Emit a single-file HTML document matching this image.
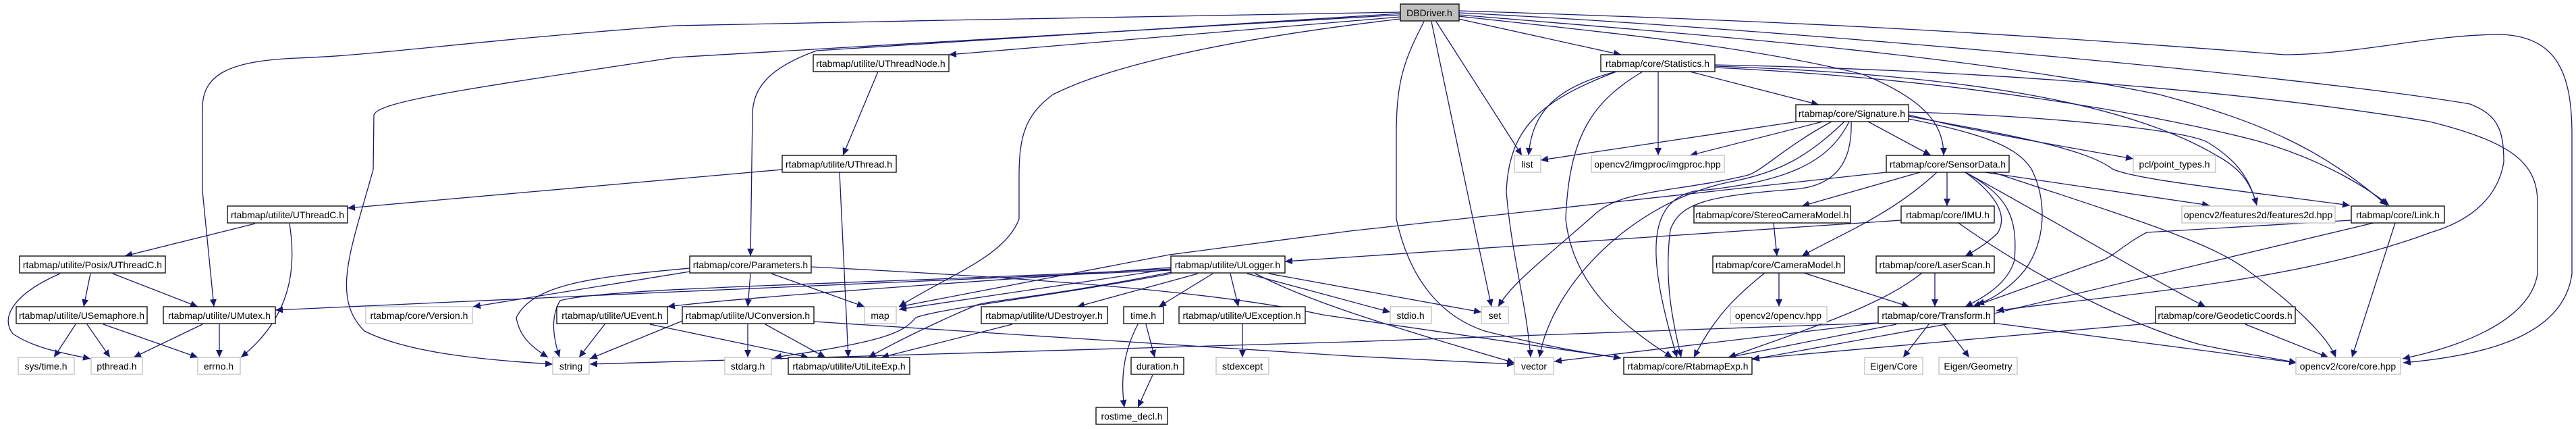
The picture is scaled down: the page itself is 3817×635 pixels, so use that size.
<!DOCTYPE html>
<html><head><meta charset="utf-8"><style>
html,body{margin:0;padding:0;background:#fff;}
svg{display:block;}
text{font-family:"Liberation Sans",Arial,sans-serif;font-size:14px;fill:#000;text-anchor:middle;}
.e{fill:none;stroke:#191970;stroke-width:1.3;marker-end:url(#a);}
.n{fill:#fff;stroke:#000;stroke-width:1.3;}
.g{fill:#fff;stroke:#bfbfbf;stroke-width:1.3;}
</style></head><body>
<svg width="3817" height="635" viewBox="0 0 3817 635" xmlns="http://www.w3.org/2000/svg">
<defs><marker id="a" markerUnits="userSpaceOnUse" markerWidth="12" markerHeight="10" refX="11" refY="5" orient="auto"><path d="M0,0 L11,5 L0,10 z" fill="#191970"/></marker></defs>
<g>
<!-- left side -->
<path class="e" d="M2075,18 L1400,30 L1000,38 C700,60 560,82 440,86 C340,90 300,110 300,160 L300,283 L317,454"/>
<path class="e" d="M2075,22 L1000,85 C700,130 560,150 554,170 L553,251 C520,370 490,440 540,490 C600,520 700,532 819,539"/>
<path class="e" d="M1159,251 L515,308"/>
<path class="e" d="M378,331 L185,379"/>
<path class="e" d="M429,331 C440,400 430,470 357,529"/>
<path class="e" d="M89,405 C20,435 0,470 19,494 C50,515 90,522 134,531"/>
<path class="e" d="M134,405 L124,454"/>
<path class="e" d="M167,405 L293,454"/>
<path class="e" d="M112,480 L80,529"/>
<path class="e" d="M129,480 L163,529"/>
<path class="e" d="M153,480 L293,529"/>
<path class="e" d="M300,480 L198,529"/>
<path class="e" d="M325,480 L325,529"/>
<path class="e" d="M1735,400 L1000,432 L408,459"/>
<path class="e" d="M1022,402 L701,454"/>
<path class="e" d="M1022,397 C880,410 790,420 765,470 C770,500 790,515 812,529"/>
<path class="e" d="M1735,398 C1300,420 900,425 830,445 C815,470 820,500 829,529"/>
<path class="e" d="M896,480 L858,529"/>
<path class="e" d="M1011,475 L874,531"/>
<path class="e" d="M963,480 L1198,529"/>
<path class="e" d="M1735,396 C1400,420 1100,440 989,454"/>
<path class="e" d="M2783,478 L2000,506 L874,539"/>
<!-- middle -->
<path class="e" d="M2075,25 L1406,81"/>
<path class="e" d="M1301,106 L1249,230"/>
<path class="e" d="M1244,255 L1257,529"/>
<path class="e" d="M2075,20 L1210,75 C1140,100 1115,130 1115,170 L1112,379"/>
<path class="e" d="M2075,28 C1800,60 1640,100 1560,140 C1520,170 1510,200 1510,260 L1510,324 C1490,380 1400,410 1332,454"/>
<path class="e" d="M1143,405 L1281,454"/>
<path class="e" d="M1112,405 L1108,454"/>
<path class="e" d="M1202,395 C1500,410 1800,430 1960,466 L2402,530"/>
<path class="e" d="M1108,480 L1108,529"/>
<path class="e" d="M1134,480 L1223,529"/>
<path class="e" d="M1206,476 L2000,527 L2244,539"/>
<path class="e" d="M1735,398 L1332,458"/>
<path class="e" d="M1735,405 C1550,440 1400,455 1357,470 C1340,490 1320,505 1147,529"/>
<path class="e" d="M1735,403 C1550,440 1460,445 1446,452 C1380,480 1320,510 1287,529"/>
<path class="e" d="M1775,405 L1596,454"/>
<path class="e" d="M1797,405 L1717,454"/>
<path class="e" d="M1823,405 L1835,454"/>
<path class="e" d="M1848,405 L2060,462"/>
<path class="e" d="M1880,405 L2195,462"/>
<path class="e" d="M1860,405 C1930,440 2000,466 2244,537"/>
<path class="e" d="M1500,480 L1306,529"/>
<path class="e" d="M1698,480 L1711,529"/>
<path class="e" d="M1686,480 C1665,520 1660,560 1666,603"/>
<path class="e" d="M1708,555 L1686,603"/>
<path class="e" d="M1841,480 L1841,529"/>
<path class="e" d="M2817,326 L1904,387"/>
<path class="e" d="M2795,255 L2000,342 L1733,377 L1332,454"/>
<!-- DB right / center -->
<path class="e" d="M2161,28 L2402,81"/>
<path class="e" d="M2128,32 L2255,230"/>
<path class="e" d="M2121,32 L2210,454"/>
<path class="e" d="M2110,32 C2080,90 2069,120 2069,200 L2069,324 C2090,420 2140,470 2200,490 C2300,515 2350,522 2402,530"/>
<path class="e" d="M2161,24 C2400,50 2600,70 2760,110 C2860,150 2880,190 2880,230"/>
<path class="e" d="M2395,106 C2300,130 2270,170 2265,230"/>
<path class="e" d="M2395,106 C2280,150 2236,190 2232,284 C2240,380 2262,450 2268,529"/>
<path class="e" d="M2434,106 C2360,150 2325,200 2320,324 C2330,420 2400,480 2478,529"/>
<path class="e" d="M2457,106 L2457,230"/>
<path class="e" d="M2504,106 L2695,155"/>
<path class="e" d="M2663,180 L2283,237"/>
<path class="e" d="M2701,180 L2504,230"/>
<path class="e" d="M2714,180 C2640,220 2610,255 2587,260 C2480,285 2400,280 2360,320 C2280,390 2240,420 2220,454"/>
<path class="e" d="M2733,180 C2680,230 2640,255 2560,270 C2420,300 2300,420 2281,529"/>
<path class="e" d="M2740,180 C2710,240 2650,270 2510,283 C2440,300 2440,380 2485,529"/>
<path class="e" d="M2743,180 C2745,240 2720,275 2660,280 C2530,290 2490,300 2475,340 C2465,420 2480,480 2491,529"/>
<path class="e" d="M2768,180 L2861,230"/>
<path class="e" d="M2845,255 L2670,305"/>
<path class="e" d="M2870,255 C2800,320 2720,350 2670,379"/>
<path class="e" d="M2885,255 L2885,305"/>
<path class="e" d="M2912,255 C2960,290 2975,320 2960,345 C2945,360 2925,372 2912,379"/>
<path class="e" d="M2912,255 C2975,290 2990,320 2985,385 C2975,420 2940,440 2912,454"/>
<path class="e" d="M2628,330 L2633,379"/>
<path class="e" d="M2636,404 L2636,454"/>
<path class="e" d="M2615,404 C2570,440 2540,470 2510,529"/>
<path class="e" d="M2673,404 L2829,454"/>
<path class="e" d="M2867,404 L2867,454"/>
<path class="e" d="M2848,404 C2790,450 2700,480 2561,529"/>
<path class="e" d="M2902,330 C3000,400 3150,480 3260,510 C3330,525 3370,530 3403,537"/>
<path class="e" d="M2783,478 L2303,535"/>
<path class="e" d="M2810,480 L2561,529"/>
<path class="e" d="M2858,480 L2820,529"/>
<path class="e" d="M2880,480 L2918,529"/>
<path class="e" d="M2953,478 L3403,537"/>
<!-- right -->
<path class="e" d="M3484,326 L3181,344 C3150,360 3130,380 3116,385 L2923,454"/>
<path class="e" d="M3517,330 L2900,477 L2596,532"/>
<path class="e" d="M3549,330 L3485,529"/>
<path class="e" d="M3194,478 L2900,504 L2596,531"/>
<path class="e" d="M3327,480 L3450,529"/>
<path class="e" d="M2912,255 C3050,330 3200,420 3268,454"/>
<path class="e" d="M2941,255 L3274,304"/>
<path class="e" d="M2953,255 C3150,320 3280,360 3330,400 C3400,450 3450,500 3461,529"/>
<path class="e" d="M2828,170 C2870,180 2900,190 3161,235"/>
<path class="e" d="M2828,166 C3000,170 3230,190 3270,210 C3320,240 3335,270 3344,304"/>
<path class="e" d="M2828,172 C2980,200 3090,220 3130,250 C3160,265 3300,280 3482,304"/>
<path class="e" d="M2828,176 C2950,200 2990,220 3010,250 C3035,300 3030,360 3000,400 C2980,425 2950,445 2929,450"/>
<path class="e" d="M2541,96 C2900,103 3300,130 3600,180 C3720,210 3760,240 3760,300 L3760,405 C3750,470 3660,510 3560,531"/>
<path class="e" d="M2541,100 C2900,117 3200,170 3350,210 C3450,240 3510,280 3540,304"/>
<path class="e" d="M2541,98 C2900,110 3150,150 3286,231 C3320,250 3335,270 3344,304"/>
<path class="e" d="M2162,22 C2500,50 2900,79 3200,140 C3350,180 3440,220 3537,304"/>
<path class="e" d="M2162,16 C2600,30 2900,43 3385,81 C3500,80 3600,51 3707,51 C3790,55 3811,110 3811,200 L3811,405 C3800,490 3700,525 3561,537"/>
<path class="e" d="M2162,19 C2600,40 3400,110 3660,154 C3700,170 3710,190 3710,240 C3700,300 3650,330 3602,344 C3400,420 3100,440 2958,460"/>
</g>
<g>
<rect x="2075" y="6" width="87" height="25" fill="#bfbfbf" stroke="#000" stroke-width="1.3"/><text x="2118" y="24">DBDriver.h</text>
<rect class="n" x="1205" y="81" width="201" height="25"/><text x="1305" y="99">rtabmap/utilite/UThreadNode.h</text>
<rect class="n" x="2372" y="81" width="169" height="25"/><text x="2456" y="99">rtabmap/core/Statistics.h</text>
<rect class="n" x="2661" y="155" width="167" height="25"/><text x="2744" y="173">rtabmap/core/Signature.h</text>
<rect class="n" x="1159" y="230" width="169" height="25"/><text x="1243" y="248">rtabmap/utilite/UThread.h</text>
<rect class="g" x="2244" y="230" width="39" height="25"/><text x="2263" y="248">list</text>
<rect class="g" x="2358" y="230" width="197" height="25"/><text x="2456" y="248">opencv2/imgproc/imgproc.hpp</text>
<rect class="n" x="2795" y="230" width="182" height="25"/><text x="2886" y="248">rtabmap/core/SensorData.h</text>
<rect class="g" x="3161" y="230" width="122" height="25"/><text x="3222" y="248">pcl/point_types.h</text>
<rect class="n" x="337" y="305" width="178" height="25"/><text x="426" y="323">rtabmap/utilite/UThreadC.h</text>
<rect class="n" x="2510" y="305" width="232" height="25"/><text x="2626" y="323">rtabmap/core/StereoCameraModel.h</text>
<rect class="n" x="2817" y="305" width="138" height="25"/><text x="2886" y="323">rtabmap/core/IMU.h</text>
<rect class="g" x="3233" y="305" width="227" height="25"/><text x="3346" y="323">opencv2/features2d/features2d.hpp</text>
<rect class="n" x="3484" y="305" width="138" height="25"/><text x="3553" y="323">rtabmap/core/Link.h</text>
<rect class="n" x="29" y="379" width="216" height="25"/><text x="137" y="397">rtabmap/utilite/Posix/UThreadC.h</text>
<rect class="n" x="1022" y="379" width="180" height="25"/><text x="1112" y="397">rtabmap/core/Parameters.h</text>
<rect class="n" x="1735" y="379" width="169" height="25"/><text x="1819" y="397">rtabmap/utilite/ULogger.h</text>
<rect class="n" x="2538" y="379" width="195" height="25"/><text x="2635" y="397">rtabmap/core/CameraModel.h</text>
<rect class="n" x="2780" y="379" width="175" height="25"/><text x="2867" y="397">rtabmap/core/LaserScan.h</text>
<rect class="n" x="24" y="454" width="194" height="25"/><text x="121" y="472">rtabmap/utilite/USemaphore.h</text>
<rect class="n" x="242" y="454" width="166" height="25"/><text x="325" y="472">rtabmap/utilite/UMutex.h</text>
<rect class="g" x="542" y="454" width="158" height="25"/><text x="621" y="472">rtabmap/core/Version.h</text>
<rect class="n" x="825" y="454" width="164" height="25"/><text x="907" y="472">rtabmap/utilite/UEvent.h</text>
<rect class="n" x="1011" y="454" width="195" height="25"/><text x="1108" y="472">rtabmap/utilite/UConversion.h</text>
<rect class="g" x="1281" y="454" width="47" height="25"/><text x="1304" y="472">map</text>
<rect class="n" x="1454" y="454" width="187" height="25"/><text x="1547" y="472">rtabmap/utilite/UDestroyer.h</text>
<rect class="n" x="1665" y="454" width="59" height="25"/><text x="1694" y="472">time.h</text>
<rect class="n" x="1747" y="454" width="187" height="25"/><text x="1840" y="472">rtabmap/utilite/UException.h</text>
<rect class="g" x="2060" y="454" width="61" height="25"/><text x="2090" y="472">stdio.h</text>
<rect class="g" x="2195" y="454" width="40" height="25"/><text x="2215" y="472">set</text>
<rect class="g" x="2564" y="454" width="143" height="25"/><text x="2635" y="472">opencv2/opencv.hpp</text>
<rect class="n" x="2783" y="454" width="172" height="25"/><text x="2869" y="472">rtabmap/core/Transform.h</text>
<rect class="n" x="3194" y="454" width="207" height="25"/><text x="3297" y="472">rtabmap/core/GeodeticCoords.h</text>
<rect class="g" x="27" y="529" width="83" height="25"/><text x="68" y="547">sys/time.h</text>
<rect class="g" x="135" y="529" width="76" height="25"/><text x="173" y="547">pthread.h</text>
<rect class="g" x="293" y="529" width="63" height="25"/><text x="324" y="547">errno.h</text>
<rect class="g" x="819" y="529" width="54" height="25"/><text x="846" y="547">string</text>
<rect class="g" x="1074" y="529" width="69" height="25"/><text x="1108" y="547">stdarg.h</text>
<rect class="n" x="1168" y="529" width="180" height="25"/><text x="1258" y="547">rtabmap/utilite/UtiLiteExp.h</text>
<rect class="n" x="1676" y="529" width="78" height="25"/><text x="1715" y="547">duration.h</text>
<rect class="g" x="1802" y="529" width="78" height="25"/><text x="1841" y="547">stdexcept</text>
<rect class="g" x="2244" y="529" width="58" height="25"/><text x="2273" y="547">vector</text>
<rect class="n" x="2406" y="529" width="190" height="25"/><text x="2501" y="547">rtabmap/core/RtabmapExp.h</text>
<rect class="g" x="2763" y="529" width="86" height="25"/><text x="2806" y="547">Eigen/Core</text>
<rect class="g" x="2873" y="529" width="116" height="25"/><text x="2931" y="547">Eigen/Geometry</text>
<rect class="g" x="3402" y="529" width="155" height="25"/><text x="3479" y="547">opencv2/core/core.hpp</text>
<rect class="n" x="1624" y="603" width="106" height="25"/><text x="1677" y="621">rostime_decl.h</text>
</g>
</svg>
</body></html>
